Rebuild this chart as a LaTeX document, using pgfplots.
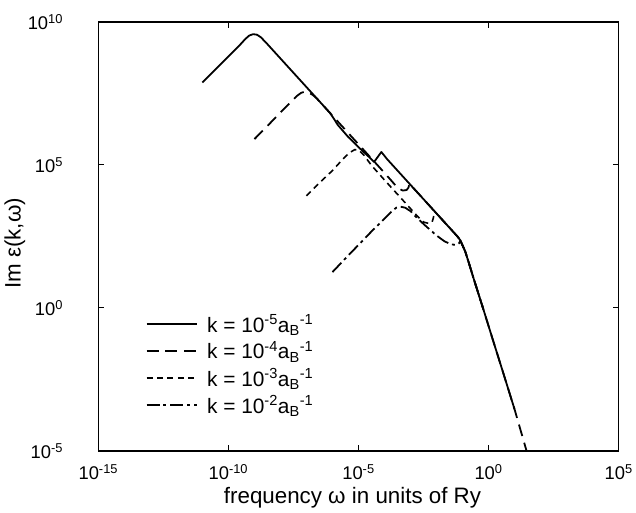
\documentclass[border=0pt]{standalone}
\usepackage{fontspec}
\setmainfont{Liberation Sans}
\usepackage{pgfplots}
\pgfplotsset{compat=1.18}
\newcommand{\lstrut}{\rule[-6pt]{0pt}{21pt}}
\begin{document}
\begin{tikzpicture}
\begin{axis}[
  name=ax,
  scale only axis, width=524pt, height=432pt,
  xmode=log, ymode=log,
  xmin=1e-15, xmax=1e5, ymin=1e-5, ymax=1e10,
  xtick={1e-15,1e-10,1e-5,1,1e5},
  xticklabels={10\textsuperscript{-15},10\textsuperscript{-10},10\textsuperscript{-5},10\textsuperscript{0},10\textsuperscript{5}},
  ytick={1e-5,1,1e5,1e10},
  yticklabels={10\textsuperscript{-5},10\textsuperscript{0},10\textsuperscript{5},10\textsuperscript{10}},
  minor tick style={draw=none},
  tick align=inside,
  major tick length=6pt,
  tick style={line width=1.3pt, black},
  axis line style={line width=1.6pt},
  ticklabel style={font=\fontsize{18.5}{21}\selectfont},
  yticklabel style={xshift=-32pt},
  xticklabel style={yshift=-10pt},
  xlabel={frequency ω in units of Ry},
  ylabel={Im ε(k,ω)},
  every axis x label/.style={at={(rel axis cs:0.5,0)}, anchor=center, xshift=-6pt, yshift=-47pt, font=\fontsize{22.5}{26}\selectfont},
  every axis y label/.style={at={(rel axis cs:0,0.5)}, anchor=center, rotate=90, yshift=84pt, xshift=-7pt, font=\fontsize{22.5}{26}\selectfont},
  legend cell align=left,
  legend style={draw=none, fill=none, font=\fontsize{21}{24}\selectfont,
    at={(rel axis cs:0.085,0.3275)}, anchor=north west, row sep=4pt,
    nodes={inner ysep=2pt},
    /tikz/every odd column/.append style={column sep=7pt}},
  legend image code/.code={\draw[#1] (0pt,0pt) -- (51pt,0pt);},
]
\addplot[black, solid, line width=1.8pt, line join=round, no markers] coordinates {
(1e-11,7.586e7) (3.162e-11,2.138e8) (1e-10,6.166e8) (2.512e-10,1.413e9)
(4.467e-10,2.512e9) (6.310e-10,3.311e9) (8.913e-10,3.715e9) (1.259e-9,3.548e9)
(1.778e-9,2.884e9) (3.162e-9,1.660e9) (1e-8,5.248e8) (3.162e-8,1.660e8)
(1e-7,5.248e7) (3.162e-7,1.660e7) (7.943e-7,6.607e6) (1.122e-6,4.169e6)
(1.585e-6,2.512e6) (3.981e-6,9.550e5) (1e-5,4.169e5) (2.512e-5,1.905e5)
(3.981e-5,1.259e5) (7.586e-5,2.818e5) (1.259e-4,1.585e5) (3.162e-4,6.310e4)
(1e-3,1.995e4) (3.162e-3,6.310e3) (1e-2,1.995e3) (3.162e-2,631.0)
(6.310e-2,316.2) (7.943e-2,239.9) (0.1259,95.50) (0.1778,35.48)
(0.2512,12.59) (0.6310,0.8913) (1.585,0.06026) (3.981,0.004169) (10,2.818e-4)
};
\addlegendentry{\lstrut k = 10\textsuperscript{-5}a\textsubscript{B}\textsuperscript{-1}}
\addplot[black, line width=1.8pt, line join=round, no markers, dash pattern=on 12pt off 7pt] coordinates {
(1e-9,7.943e5) (3.162e-9,2.291e6) (1e-8,6.761e6) (2.512e-8,1.585e7)
(4.467e-8,2.630e7) (6.310e-8,3.311e7) (8.913e-8,3.631e7) (1.259e-7,3.311e7)
(1.778e-7,2.754e7) (2.512e-7,2.089e7) (5.012e-7,1.047e7) (1e-6,5.248e6)
(3.162e-6,1.660e6) (1e-5,5.248e5) (3.162e-5,1.660e5) (1e-4,5.248e4)
(1.995e-4,2.570e4) (3.162e-4,1.585e4) (5.012e-4,1.259e4) (7.079e-4,1.318e4)
(8.318e-4,1.585e4) (9.120e-4,2.188e4) (1e-3,1.995e4)
(3.162e-3,6.310e3) (1e-2,1.995e3) (3.162e-2,631.0)
(6.310e-2,316.2) (7.943e-2,239.9) (0.1259,95.50) (0.1778,35.48)
(0.2512,12.59) (0.6310,0.8913) (1.585,0.06026) (3.981,0.004169) (10,2.818e-4)
(28.18,1.072e-5) (31.62,7.413e-6)
};
\addlegendentry{\lstrut k = 10\textsuperscript{-4}a\textsubscript{B}\textsuperscript{-1}}
\addplot[black, line width=1.6pt, line join=round, no markers, dash pattern=on 6pt off 4.5pt] coordinates {
(1e-7,8.318e3) (3.162e-7,2.344e4) (1e-6,6.310e4) (2.512e-6,1.585e5)
(4.467e-6,2.630e5) (7.079e-6,3.388e5) (1e-5,3.311e5) (1.585e-5,2.239e5)
(3.162e-5,9.550e4) (1e-4,2.951e4) (3.162e-4,9.333e3) (1e-3,2.951e3)
(1.995e-3,1.479e3) (3.162e-3,1e3) (5.012e-3,891.3) (6.761e-3,1e3)
(7.586e-3,1.413e3) (8.318e-3,2.399e3) (1e-2,1.995e3) (3.162e-2,631.0)
(6.310e-2,316.2) (7.943e-2,239.9) (0.1259,95.50) (0.1778,35.48)
(0.2512,12.59) (0.6310,0.8913)
};
\addlegendentry{\lstrut k = 10\textsuperscript{-3}a\textsubscript{B}\textsuperscript{-1}}
\addplot[black, line width=1.8pt, line join=round, no markers, dash pattern=on 13pt off 4pt on 3pt off 4pt] coordinates {
(1e-6,17.78) (3.162e-6,53.70) (1e-5,158.5) (3.162e-5,467.7)
(1e-4,1318) (1.778e-4,2239) (2.818e-4,3162) (3.981e-4,3467)
(6.310e-4,3162) (1e-3,2399) (1.995e-3,1259) (3.981e-3,707.9)
(1e-2,338.8) (1.995e-2,213.8) (3.548e-2,166.0) (5.623e-2,158.5)
(7.413e-2,182.0) (8.318e-2,229.1) (0.1259,95.50) (0.1778,35.48)
(0.2512,12.59) (0.6310,0.8913)
};
\addlegendentry{\lstrut k = 10\textsuperscript{-2}a\textsubscript{B}\textsuperscript{-1}}
\end{axis}
\path[use as bounding box] ([xshift=-99pt,yshift=-62pt]ax.south west) rectangle ([xshift=13pt,yshift=22pt]ax.north east);
\end{tikzpicture}
\end{document}
